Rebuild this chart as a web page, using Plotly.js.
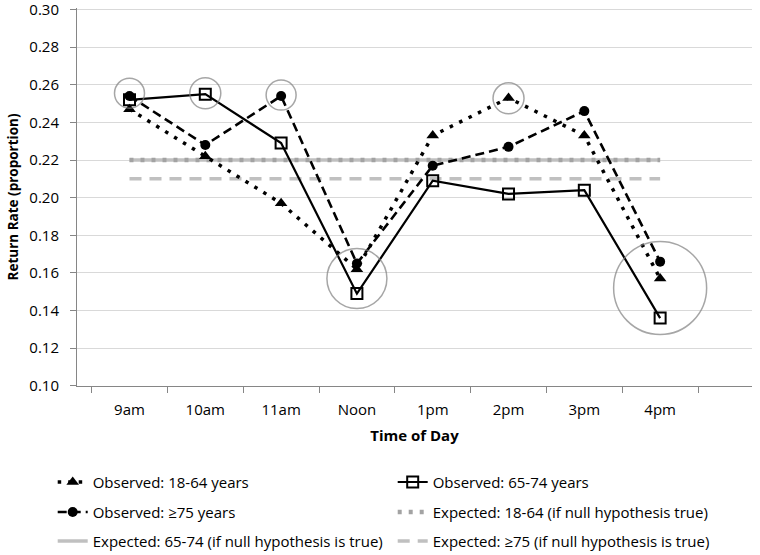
<!DOCTYPE html>
<html>
<head>
<meta charset="utf-8">
<script src="https://cdn.plot.ly/plotly-3.0.1.min.js"></script>
<style>
  html, body { margin: 0; padding: 0; background: #fff; }
  #chart { width: 760px; height: 555px; }
</style>
</head>
<body>
<div id="chart"></div>
<script>
// time of day categories
const times = ["9am", "10am", "11am", "Noon", "1pm", "2pm", "3pm", "4pm"];
const yTicks = [0.10, 0.12, 0.14, 0.16, 0.18, 0.20, 0.22, 0.24, 0.26, 0.28, 0.30];

// observed return rates
const obs1864 = [0.247, 0.222, 0.197, 0.162, 0.233, 0.253, 0.233, 0.157];
const obs6574 = [0.252, 0.255, 0.229, 0.149, 0.209, 0.202, 0.204, 0.136];
const obs75   = [0.254, 0.228, 0.254, 0.165, 0.217, 0.227, 0.246, 0.166];

// expected rates under null hypothesis
const exp1864 = [0.22, 0.22, 0.22, 0.22, 0.22, 0.22, 0.22, 0.22];
const exp6574 = [0.22, 0.22, 0.22, 0.22, 0.22, 0.22, 0.22, 0.22];
const exp75   = [0.21, 0.21, 0.21, 0.21, 0.21, 0.21, 0.21, 0.21];

// highlighted points (circled)
const hiTimes  = ["9am", "10am", "11am", "2pm", "Noon", "4pm"];
const hiValues = [0.2555, 0.2555, 0.2545, 0.2528, 0.157, 0.152];
const hiSizes  = [30, 31, 30, 31, 60, 93];

const font = "Open Sans, Lato, sans-serif";

// drawing order: expected lines underneath, observed on top; legendrank keeps legend order
const traces = [
  {
    x: times, y: exp6574, name: "Expected: 65-74 (if null hypothesis is true)",
    legend: "legend3", legendrank: 1,
    type: "scatter", mode: "lines",
    line: { color: "#c0c0c0", width: 3.5 }
  },
  {
    x: times, y: exp1864, name: "Expected: 18-64 (if null hypothesis true)",
    legend: "legend2", legendrank: 2,
    type: "scatter", mode: "lines",
    line: { color: "#a3a3a3", width: 4.5, dash: "4px,7px" }
  },
  {
    x: times, y: exp75, name: "Expected: \u226575 (if null hypothesis is true)",
    legend: "legend3", legendrank: 2,
    type: "scatter", mode: "lines",
    line: { color: "#c0c0c0", width: 3.5, dash: "12px,8px" }
  },
  {
    x: times, y: obs1864, name: "Observed: 18-64 years",
    legend: "legend", legendrank: 1,
    type: "scatter", mode: "lines+markers",
    line: { color: "#000", width: 3.5, dash: "3.5px,7px" },
    marker: { symbol: "triangle-up", size: 11, color: "#000" }
  },
  {
    x: times, y: obs6574, name: "Observed: 65-74 years",
    legend: "legend", legendrank: 2,
    type: "scatter", mode: "lines+markers",
    line: { color: "#000", width: 2.2 },
    marker: { symbol: "square-open", size: 11, color: "#000", line: { width: 2, color: "#000" } }
  },
  {
    x: times, y: obs75, name: "Observed: \u226575 years",
    legend: "legend2", legendrank: 1,
    type: "scatter", mode: "lines+markers",
    line: { color: "#000", width: 2.6, dash: "9px,5px" },
    marker: { symbol: "circle", size: 10, color: "#000" }
  },
  {
    x: hiTimes, y: hiValues, type: "scatter", mode: "markers",
    showlegend: false, hoverinfo: "skip",
    marker: { symbol: "circle-open", size: hiSizes, color: "#808080", line: { width: 1.5, color: "#808080" } }
  }
];

const legendBase = {
  orientation: "h",
  x: -0.036, xanchor: "left",
  yanchor: "middle",
  entrywidth: 295,
  traceorder: "normal",
  font: { size: 15 },
  bgcolor: "rgba(0,0,0,0)"
};

Plotly.newPlot("chart", traces, {
  width: 760,
  height: 555,
  margin: { l: 77, r: 8, t: 8, b: 169, autoexpand: false },
  paper_bgcolor: "#fff",
  plot_bgcolor: "#fff",
  font: { family: font, color: "#000", size: 15 },
  showlegend: true,
  xaxis: {
    type: "category",
    tickson: "boundaries",
    ticks: "outside",
    ticklen: 6,
    tickcolor: "#868686",
    ticklabelstandoff: 10,
    showgrid: false,
    showline: true,
    linecolor: "#868686",
    linewidth: 1,
    tickfont: { size: 15 },
    title: { text: "<b>Time of Day</b>", font: { size: 15 }, standoff: 12 }
  },
  yaxis: {
    range: [0.0999, 0.3008],
    tickvals: yTicks,
    tickformat: ".2f",
    ticks: "outside",
    ticklen: 6,
    tickcolor: "#868686",
    ticklabelstandoff: 8,
    ticklabeloverflow: "allow",
    showline: true,
    linecolor: "#868686",
    gridcolor: "#d9d9d9",
    zeroline: false,
    tickfont: { size: 15 },
    title: { text: "<b>Return Rate (proportion)</b>", font: { size: 13.5 }, standoff: 7 }
  },
  legend:  Object.assign({}, legendBase, { y: -0.2546 }),
  legend2: Object.assign({}, legendBase, { y: -0.334 }),
  legend3: Object.assign({}, legendBase, { y: -0.411 })
}, { displayModeBar: false, staticPlot: true });
</script>
</body>
</html>
